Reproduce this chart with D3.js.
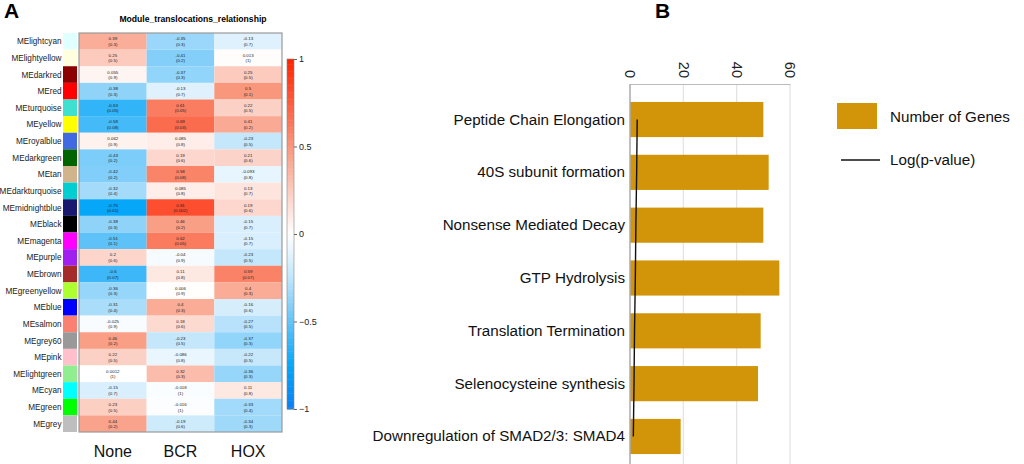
<!DOCTYPE html>
<html>
<head>
<meta charset="utf-8">
<script src="https://cdn.jsdelivr.net/npm/d3@7"></script>
<style>
  body { margin: 0; background: #fff; }
  svg { font-family: "Liberation Sans", Arial, sans-serif; }
</style>
</head>
<body>
<svg id="chart"></svg>
<script>
// ---- panel A data
const modules = ["MElightcyan", "MElightyellow", "MEdarkred", "MEred", "MEturquoise", "MEyellow",
  "MEroyalblue", "MEdarkgreen", "MEtan", "MEdarkturquoise", "MEmidnightblue", "MEblack",
  "MEmagenta", "MEpurple", "MEbrown", "MEgreenyellow", "MEblue", "MEsalmon", "MEgrey60",
  "MEpink", "MElightgreen", "MEcyan", "MEgreen", "MEgrey"]
const moduleColors = ["#E0FFFF", "#FFFFE0", "#8B0000", "#FF0000", "#40E0D0", "#FFFF00",
  "#4169E1", "#006400", "#D2B48C", "#00CED1", "#191970", "#000000",
  "#FF00FF", "#A020F0", "#A52A2A", "#ADFF2F", "#0000FF", "#FA8072", "#999999",
  "#FFC0CB", "#90EE90", "#00FFFF", "#00FF00", "#BEBEBE"]
const groups = ["None", "BCR", "HOX"]
const corNone = [0.39, 0.25, 0.055, -0.38, -0.63, -0.58, 0.062, -0.43, -0.42, -0.32, -0.75, -0.38,
  -0.51, 0.2, -0.6, -0.36, -0.31, -0.025, 0.46, 0.22, 0.0012, -0.15, 0.23, 0.44]
const pNone = ["0.3", "0.5", "0.9", "0.3", "0.05", "0.08", "0.9", "0.2", "0.2", "0.4", "0.01", "0.3",
  "0.1", "0.6", "0.07", "0.3", "0.4", "0.9", "0.2", "0.5", "1", "0.7", "0.5", "0.2"]
const corBCR = [-0.35, -0.41, -0.37, -0.13, 0.61, 0.69, 0.085, 0.19, 0.58, 0.085, 0.81, 0.46,
  0.62, -0.04, 0.11, 0.006, 0.4, 0.18, -0.23, -0.086, 0.32, -0.018, -0.016, -0.19]
const pBCR = ["0.3", "0.2", "0.3", "0.7", "0.05", "0.03", "0.8", "0.6", "0.08", "0.8", "0.002", "0.2",
  "0.05", "0.9", "0.8", "0.9", "0.3", "0.6", "0.5", "0.8", "0.3", "1", "1", "0.6"]
const corHOX = [-0.13, 0.013, 0.25, 0.5, 0.22, 0.41, -0.23, 0.21, -0.093, 0.13, 0.19, -0.15,
  -0.15, -0.23, 0.59, 0.4, -0.16, -0.27, -0.37, -0.22, -0.36, 0.11, -0.33, -0.34]
const pHOX = ["0.7", "1", "0.5", "0.1", "0.5", "0.2", "0.5", "0.6", "0.8", "0.7", "0.6", "0.7",
  "0.7", "0.5", "0.07", "0.3", "0.6", "0.5", "0.3", "0.5", "0.3", "0.8", "0.4", "0.3"]
const colorbarTicks = [-1, -0.5, 0, 0.5, 1]

// ---- panel B data
const pathways = ["Peptide Chain Elongation", "40S subunit formation", "Nonsense Mediated Decay",
  "GTP Hydrolysis", "Translation Termination", "Selenocysteine synthesis",
  "Downregulation of SMAD2/3: SMAD4"]
const geneCounts = [50, 52, 50, 56, 49, 48, 19]
const logP = [2.7, 2.5, 2.2, 2.0, 1.7, 1.5, 1.25]
const countTicks = [0, 20, 40, 60]

const width = 1024, height = 464
const svg = d3.select('#chart').attr('width', width).attr('height', height)

// ================= panel A =================
const cors = [corNone, corBCR, corHOX]
const pvals = [pNone, pBCR, pHOX]
const cells = []
groups.forEach((g, j) => {
  modules.forEach((m, i) => {
    cells.push({ module: m, group: g, r: cors[j][i], p: pvals[j][i] })
  })
})

const xA = d3.scaleBand().domain(groups).range([79, 282])
const yA = d3.scaleBand().domain(modules).range([33, 432])

const heat = d3.scaleLinear()
  .domain([-1, -0.75, -0.5, -0.25, 0, 0.5, 1])
  .range(["#0a7ef2", "#06a6f8", "#62c3f8", "#bfe5fb", "#ffffff", "#f9977c", "#ff2200"])
  .clamp(true)

svg.append('text')
  .attr('x', 4).attr('y', 18)
  .attr('font-size', 21).attr('font-weight', 'bold')
  .text('A')

svg.append('text')
  .attr('x', 193).attr('y', 22)
  .attr('text-anchor', 'middle')
  .attr('font-size', 8.6).attr('font-weight', 'bold')
  .text('Module_translocations_relationship')

const gA = svg.append('g')

gA.selectAll('rect.cell')
  .data(cells)
  .join('rect')
  .attr('class', 'cell')
  .attr('x', d => xA(d.group))
  .attr('y', d => yA(d.module))
  .attr('width', xA.bandwidth())
  .attr('height', yA.bandwidth())
  .attr('fill', d => heat(d.r))

gA.selectAll('text.val')
  .data(cells)
  .join('text')
  .attr('class', 'val')
  .attr('x', d => xA(d.group) + xA.bandwidth() / 2)
  .attr('y', d => yA(d.module) + yA.bandwidth() / 2 - 1)
  .attr('text-anchor', 'middle')
  .attr('font-size', 4.4)
  .attr('fill', '#222')
  .text(d => d.r)

gA.selectAll('text.pv')
  .data(cells)
  .join('text')
  .attr('class', 'pv')
  .attr('x', d => xA(d.group) + xA.bandwidth() / 2)
  .attr('y', d => yA(d.module) + yA.bandwidth() / 2 + 4.5)
  .attr('text-anchor', 'middle')
  .attr('font-size', 4.4)
  .attr('fill', '#222')
  .text(d => '(' + d.p + ')')

gA.append('rect')
  .attr('x', 79).attr('y', 33)
  .attr('width', 203).attr('height', 399)
  .attr('fill', 'none').attr('stroke', '#9a9a9a').attr('stroke-width', 1.2)

// module swatches
gA.selectAll('rect.sw')
  .data(modules)
  .join('rect')
  .attr('class', 'sw')
  .attr('x', 63)
  .attr('y', d => yA(d))
  .attr('width', 14)
  .attr('height', yA.bandwidth())
  .attr('fill', (d, i) => moduleColors[i])

gA.selectAll('text.mod')
  .data(modules)
  .join('text')
  .attr('class', 'mod')
  .attr('x', 61.5)
  .attr('y', d => yA(d) + yA.bandwidth() / 2 + 3)
  .attr('text-anchor', 'end')
  .attr('font-size', 8.2)
  .attr('fill', '#222')
  .text(d => d)

gA.selectAll('text.grp')
  .data(groups)
  .join('text')
  .attr('class', 'grp')
  .attr('x', d => xA(d) + xA.bandwidth() / 2)
  .attr('y', 457)
  .attr('text-anchor', 'middle')
  .attr('font-size', 16)
  .attr('fill', '#111')
  .text(d => d)

// colour bar
const yBar = d3.scaleLinear().domain([-1, 1]).range([409, 59])
const barSteps = d3.range(-1, 1, 0.01)
gA.selectAll('rect.cb')
  .data(barSteps)
  .join('rect')
  .attr('class', 'cb')
  .attr('x', 287)
  .attr('y', d => yBar(d + 0.01))
  .attr('width', 7)
  .attr('height', Math.abs(yBar(0) - yBar(0.01)) + 0.5)
  .attr('fill', d => heat(d + 0.005))

gA.append('rect')
  .attr('x', 287).attr('y', 59).attr('width', 7).attr('height', 350)
  .attr('fill', 'none').attr('stroke', '#888').attr('stroke-width', 0.6)

const cbAxis = gA.append('g')
  .attr('transform', 'translate(294,0)')
  .call(d3.axisRight(yBar).tickValues(colorbarTicks).tickSize(3).tickFormat(d3.format('')))
cbAxis.select('.domain').remove()
cbAxis.selectAll('line').attr('stroke', '#666')
cbAxis.selectAll('text').attr('font-size', 9).attr('fill', '#222').attr('x', 5)

// ================= panel B =================
svg.append('text')
  .attr('x', 655).attr('y', 18)
  .attr('font-size', 21).attr('font-weight', 'bold')
  .text('B')

const xB = d3.scaleLinear().domain([0, 60]).range([630, 790])
const yB = d3.scaleBand().domain(pathways).range([84, 472]).paddingInner(0.335).paddingOuter(0.34)

const gB = svg.append('g')

// grid
gB.selectAll('line.grid')
  .data(countTicks.filter(d => d > 0))
  .join('line')
  .attr('class', 'grid')
  .attr('x1', d => xB(d)).attr('x2', d => xB(d))
  .attr('y1', 84).attr('y2', height)
  .attr('stroke', '#e2e2e2').attr('stroke-width', 1.2)

const axB = gB.append('g')
  .attr('transform', 'translate(0,84)')
  .call(d3.axisTop(xB).tickValues(countTicks).tickSize(0))
axB.select('.domain').attr('stroke', '#bbb').attr('stroke-width', 1.2)
axB.selectAll('text')
  .attr('font-size', 14.5)
  .attr('fill', '#222')
  .attr('transform', 'rotate(90)')
  .attr('text-anchor', 'end')
  .attr('x', -6)
  .attr('y', 0)
  .attr('dy', '0.35em')

gB.selectAll('rect.bar')
  .data(pathways)
  .join('rect')
  .attr('class', 'bar')
  .attr('x', xB(0))
  .attr('y', d => yB(d))
  .attr('width', (d, i) => xB(geneCounts[i]) - xB(0))
  .attr('height', yB.bandwidth())
  .attr('fill', '#d29408')

gB.append('line')
  .attr('x1', xB(0)).attr('x2', xB(0))
  .attr('y1', 84).attr('y2', height)
  .attr('stroke', '#aaa').attr('stroke-width', 1.5)

const lineP = d3.line()
  .x(d => xB(d.v))
  .y(d => yB(d.name) + yB.bandwidth() / 2)
gB.append('path')
  .datum(pathways.map((name, i) => ({ name, v: logP[i] })))
  .attr('d', lineP)
  .attr('fill', 'none')
  .attr('stroke', '#111')
  .attr('stroke-width', 1.4)

gB.selectAll('text.cat')
  .data(pathways)
  .join('text')
  .attr('class', 'cat')
  .attr('x', 625)
  .attr('y', d => yB(d) + yB.bandwidth() / 2 + 5)
  .attr('text-anchor', 'end')
  .attr('font-size', 15.2)
  .attr('fill', '#111')
  .text(d => d)

// legend
const leg = svg.append('g')
leg.append('rect')
  .attr('x', 837).attr('y', 103).attr('width', 40).attr('height', 26)
  .attr('fill', '#d29408')
leg.append('text')
  .attr('x', 890).attr('y', 122)
  .attr('font-size', 15.2).attr('fill', '#111')
  .text('Number of Genes')
leg.append('line')
  .attr('x1', 841).attr('x2', 880).attr('y1', 160).attr('y2', 160)
  .attr('stroke', '#111').attr('stroke-width', 1.6)
leg.append('text')
  .attr('x', 890).attr('y', 165)
  .attr('font-size', 15.2).attr('fill', '#111')
  .text('Log(p-value)')
</script>
</body>
</html>
